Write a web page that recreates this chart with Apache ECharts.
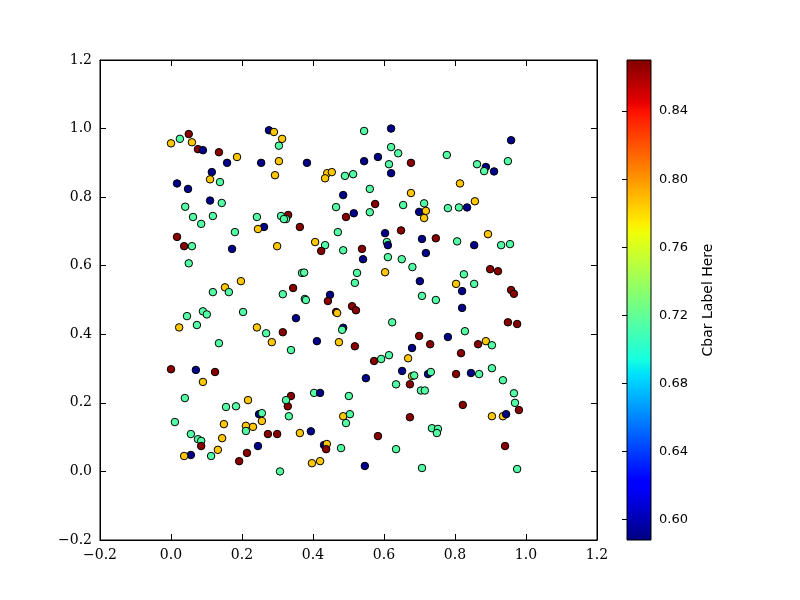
<!DOCTYPE html>
<html><head><meta charset="utf-8">
<script src="https://cdn.jsdelivr.net/npm/echarts@6/dist/echarts.min.js"></script>
<style>html,body{margin:0;padding:0;background:#fff}#c{width:800px;height:600px}</style>
</head><body><div id="c"></div>
<script>
const levels = {d:0.59, g:0.715, o:0.785, r:0.868};
const pts = [
[0.544,0.993,'g'],[0.62,1.0,'d'],[0.62,0.946,'g'],[0.64,0.928,'g'],[0.383,0.90,'d'],[0.544,0.905,'d'],[0.583,0.917,'d'],[0.614,0.896,'g'],[0.676,0.90,'r'],[0.62,0.87,'d'],
[0.44,0.87,'o'],[0.453,0.873,'o'],[0.434,0.855,'o'],[0.49,0.862,'g'],[0.513,0.867,'g'],[0.56,0.824,'g'],[0.676,0.812,'o'],[0.485,0.806,'d'],[0.654,0.777,'g'],[0.575,0.78,'r'],
[0.465,0.771,'g'],[0.515,0.753,'d'],[0.56,0.756,'g'],[0.493,0.742,'r'],[0.33,0.748,'r'],[0.324,0.736,'g'],[0.363,0.713,'r'],[0.648,0.703,'r'],[0.603,0.695,'d'],[0.608,0.669,'g'],
[0.611,0.66,'d'],[0.47,0.698,'g'],[0.406,0.669,'o'],[0.434,0.66,'g'],[0.423,0.643,'r'],[0.485,0.645,'g'],[0.538,0.649,'r'],[0.541,0.619,'d'],[0.611,0.625,'g'],[0.65,0.619,'g'],
[0.68,0.596,'g'],[0.603,0.581,'o'],[0.369,0.579,'g'],[0.375,0.58,'g'],[0.524,0.579,'g'],[0.518,0.55,'g'],[0.344,0.535,'r'],[0.448,0.515,'d'],[0.377,0.503,'g'],
[0.05,0.984,'r'],[0.025,0.97,'g'],[0.0,0.957,'o'],[0.059,0.96,'o'],[0.076,0.94,'r'],[0.09,0.937,'d'],[0.135,0.931,'r'],[0.186,0.917,'o'],[0.158,0.90,'d'],[0.254,0.90,'d'],
[0.276,0.995,'d'],[0.29,0.99,'o'],[0.313,0.97,'o'],[0.304,0.95,'g'],[0.304,0.905,'o'],[0.293,0.864,'o'],[0.115,0.873,'d'],[0.11,0.852,'o'],[0.138,0.844,'g'],[0.017,0.84,'d'],
[0.048,0.824,'d'],[0.11,0.79,'d'],[0.143,0.783,'g'],[0.04,0.772,'g'],[0.062,0.742,'g'],[0.118,0.745,'g'],[0.085,0.722,'g'],[0.242,0.742,'g'],[0.31,0.745,'g'],[0.318,0.736,'g'],
[0.262,0.713,'d'],[0.245,0.707,'o'],[0.18,0.698,'g'],[0.017,0.684,'r'],[0.037,0.657,'r'],[0.059,0.657,'g'],[0.172,0.649,'d'],[0.299,0.657,'o'],[0.05,0.607,'g'],[0.197,0.555,'o'],
[0.152,0.537,'o'],[0.118,0.523,'g'],[0.163,0.523,'g'],[0.315,0.517,'g'],
[0.958,0.966,'d'],[0.777,0.923,'g'],[0.862,0.896,'g'],[0.887,0.888,'d'],[0.882,0.876,'g'],[0.91,0.875,'d'],[0.949,0.905,'g'],[0.814,0.84,'o'],[0.713,0.782,'g'],[0.699,0.757,'d'],
[0.718,0.76,'o'],[0.713,0.739,'o'],[0.78,0.768,'g'],[0.811,0.77,'g'],[0.834,0.77,'d'],[0.856,0.788,'o'],[0.893,0.692,'o'],[0.707,0.678,'d'],[0.746,0.68,'r'],[0.806,0.671,'g'],
[0.854,0.66,'d'],[0.93,0.66,'g'],[0.955,0.663,'g'],[0.718,0.637,'d'],[0.899,0.59,'r'],[0.921,0.584,'r'],[0.701,0.555,'d'],[0.825,0.575,'g'],[0.803,0.547,'o'],[0.854,0.547,'g'],
[0.82,0.526,'d'],[0.707,0.512,'g'],[0.746,0.50,'g'],[0.958,0.529,'r'],[0.966,0.518,'r'],
[0.09,0.467,'g'],[0.101,0.458,'g'],[0.045,0.453,'g'],[0.203,0.465,'g'],[0.023,0.42,'o'],[0.073,0.427,'g'],[0.242,0.42,'o'],[0.268,0.403,'g'],[0.315,0.406,'r'],[0.284,0.377,'o'],
[0.135,0.374,'g'],[0.0,0.298,'r'],[0.07,0.296,'d'],[0.124,0.29,'r'],[0.09,0.261,'o'],[0.039,0.214,'g'],[0.217,0.208,'o'],[0.155,0.188,'g'],[0.183,0.19,'g'],[0.248,0.167,'d'],
[0.256,0.17,'g'],[0.256,0.147,'o'],[0.149,0.138,'o'],[0.211,0.133,'o'],[0.231,0.13,'o'],[0.211,0.118,'g'],[0.011,0.144,'g'],[0.056,0.109,'g'],[0.076,0.094,'g'],[0.085,0.089,'g'],
[0.085,0.074,'r'],[0.273,0.109,'r'],[0.299,0.109,'r'],[0.144,0.097,'o'],[0.245,0.074,'d'],[0.132,0.063,'o'],[0.113,0.045,'g'],[0.056,0.048,'d'],[0.037,0.045,'o'],[0.214,0.054,'r'],
[0.192,0.03,'r'],[0.307,0.0,'g'],
[0.38,0.50,'g'],[0.442,0.497,'r'],[0.465,0.465,'r'],[0.468,0.462,'o'],[0.51,0.482,'r'],[0.521,0.47,'r'],[0.352,0.447,'d'],[0.485,0.419,'d'],[0.482,0.413,'g'],[0.411,0.38,'d'],
[0.473,0.377,'o'],[0.518,0.365,'r'],[0.338,0.354,'g'],[0.623,0.435,'g'],[0.679,0.36,'d'],[0.668,0.33,'o'],[0.572,0.322,'r'],[0.592,0.328,'g'],[0.614,0.339,'g'],[0.651,0.293,'d'],
[0.679,0.278,'o'],[0.685,0.28,'g'],[0.673,0.254,'r'],[0.634,0.254,'g'],[0.549,0.272,'d'],[0.403,0.229,'g'],[0.42,0.229,'d'],[0.338,0.22,'r'],[0.501,0.22,'g'],[0.329,0.19,'r'],
[0.324,0.208,'g'],[0.332,0.161,'g'],[0.485,0.161,'o'],[0.504,0.167,'g'],[0.493,0.141,'g'],[0.673,0.158,'r'],[0.363,0.112,'o'],[0.394,0.117,'d'],[0.583,0.103,'r'],[0.431,0.077,'d'],
[0.439,0.08,'o'],[0.437,0.065,'r'],[0.479,0.068,'g'],[0.634,0.065,'g'],[0.397,0.024,'o'],[0.42,0.03,'o'],[0.546,0.016,'d'],
[0.82,0.477,'d'],[0.949,0.435,'r'],[0.975,0.43,'r'],[0.699,0.395,'r'],[0.78,0.392,'d'],[0.828,0.409,'g'],[0.73,0.371,'r'],[0.865,0.371,'r'],[0.887,0.38,'o'],[0.904,0.368,'g'],
[0.817,0.345,'r'],[0.904,0.301,'g'],[0.803,0.284,'r'],[0.845,0.287,'d'],[0.868,0.284,'g'],[0.724,0.284,'d'],[0.732,0.29,'g'],[0.935,0.266,'g'],[0.704,0.236,'g'],[0.715,0.236,'g'],
[0.966,0.228,'g'],[0.969,0.20,'g'],[0.98,0.179,'r'],[0.822,0.194,'r'],[0.904,0.161,'o'],[0.935,0.161,'o'],[0.944,0.167,'d'],[0.735,0.126,'g'],[0.752,0.124,'g'],[0.749,0.112,'g'],
[0.941,0.074,'r'],[0.707,0.01,'g'],[0.975,0.007,'g']
];
const xs = pts.map(p=>p[0]), ys = pts.map(p=>p[1]), cs = pts.map(p=>levels[p[2]]);
const cMin = 0.588, cMax = 0.87;
const cbarTicks = [0.60,0.64,0.68,0.72,0.76,0.80,0.84];

const jetStops = [[0,[0,0,128]],[0.11,[0,0,255]],[0.125,[0,0,255]],[0.34,[0,219,255]],[0.35,[0,229,246]],[0.375,[20,255,226]],[0.64,[240,255,8]],[0.66,[255,237,0]],[0.89,[255,18,0]],[0.91,[232,0,0]],[1,[128,0,0]]];
function jet(t){t=Math.max(0,Math.min(1,t));for(let i=1;i<jetStops.length;i++){const a=jetStops[i-1],b=jetStops[i];if(t<=b[0]){const f=(t-a[0])/(b[0]-a[0]||1);const c=a[1].map((v,k)=>Math.round(v+(b[1][k]-v)*f));return 'rgb('+c.join(',')+')';}}return 'rgb(128,0,0)';}
const grad = new echarts.graphic.LinearGradient(0,1,0,0, jetStops.map(s=>({offset:s[0],color:'rgb('+s[1].join(',')+')'})));
const fmt = v => (Math.abs(v)<1e-9?'0.0':v.toFixed(1)).replace('-','\u2212');
const serif = 'DejaVu Serif';
const axBase = {min:-0.2,max:1.2,interval:0.2,splitLine:{show:false},axisLine:{onZero:false,lineStyle:{color:'#000',width:1}},axisTick:{inside:true,length:6,lineStyle:{color:'#000'}}};
const chart = echarts.init(document.getElementById('c'));
chart.setOption({
  animation:false,
  grid:[{left:100,top:60,width:497,height:480,show:true,borderColor:'#000',borderWidth:1,backgroundColor:'#fff'},
        {left:627,top:60,width:24,height:480,show:true,backgroundColor:grad,borderColor:'#000',borderWidth:1}],
  xAxis:[
    Object.assign({},axBase,{gridIndex:0,type:'value',position:'bottom',axisLabel:{formatter:fmt,fontFamily:serif,fontSize:14,color:'#000',margin:8}}),
    Object.assign({},axBase,{gridIndex:0,type:'value',position:'top',axisLabel:{show:false}}),
    {gridIndex:1,type:'value',min:0,max:1,show:false}
  ],
  yAxis:[
    Object.assign({},axBase,{gridIndex:0,type:'value',position:'left',axisLabel:{formatter:fmt,fontFamily:serif,fontSize:14,color:'#000',margin:8}}),
    Object.assign({},axBase,{gridIndex:0,type:'value',position:'right',axisLabel:{show:false}}),
    {gridIndex:1,type:'value',min:cMin,max:cMax,position:'right',splitLine:{show:false},
     axisLine:{show:false},
     axisTick:{inside:true,length:5,customValues:cbarTicks,lineStyle:{color:'#000'}},
     axisLabel:{customValues:cbarTicks,formatter:v=>v.toFixed(2),fontFamily:'DejaVu Sans',fontSize:13,color:'#000',margin:8},
     name:'Cbar Label Here',nameLocation:'middle',nameGap:50,nameRotate:90,nameTextStyle:{fontFamily:'DejaVu Sans',fontSize:14,color:'#000'}}
  ],
  series:[{type:'scatter',xAxisIndex:0,yAxisIndex:0,symbolSize:7.5,
    data:xs.map((x,i)=>({value:[x,ys[i]],itemStyle:{color:jet((cs[i]-cMin)/(cMax-cMin))}})),
    itemStyle:{borderColor:'#000',borderWidth:1,opacity:1}}]
});
</script></body></html>
